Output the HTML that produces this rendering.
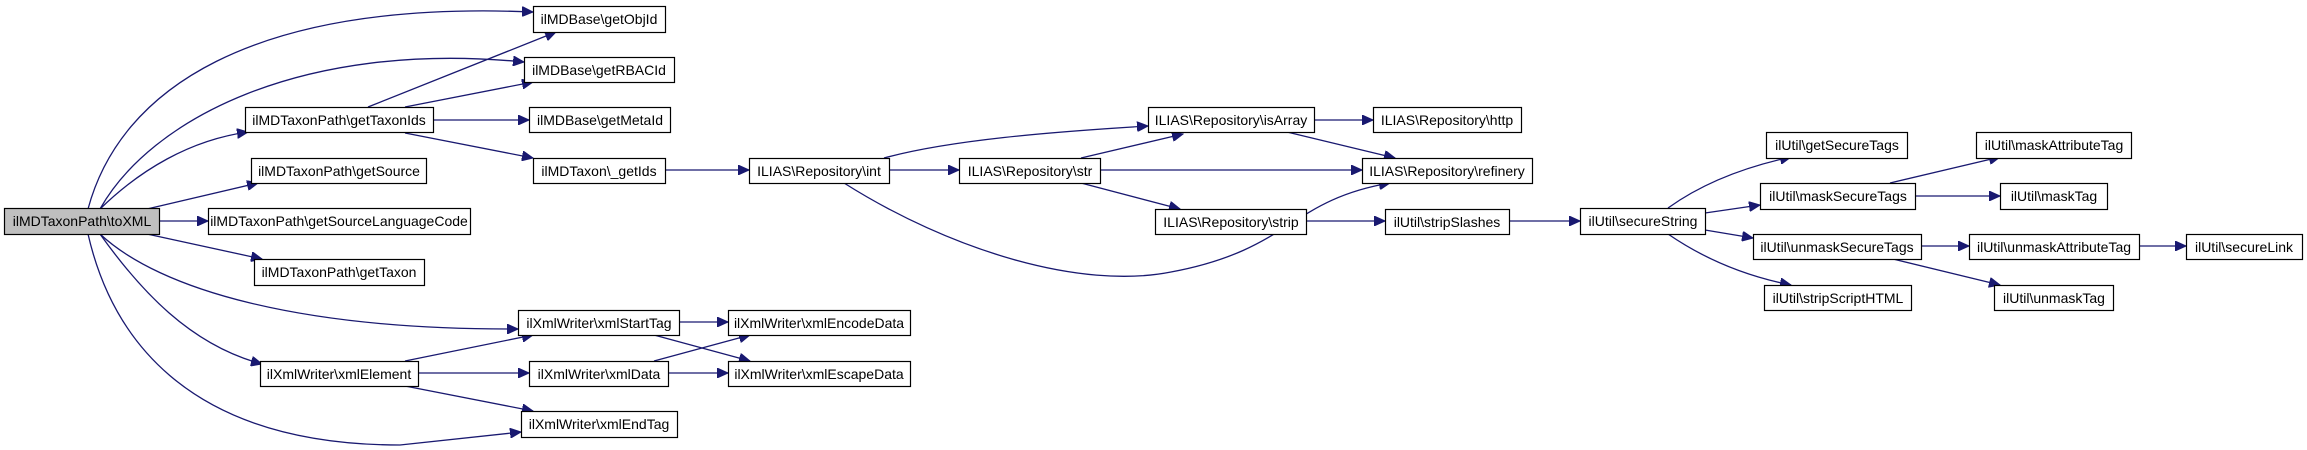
<!DOCTYPE html>
<html><head><meta charset="utf-8"><style>
html,body{margin:0;padding:0;background:#fff;}
svg{display:block;}
text{font-family:"Liberation Sans",sans-serif;font-size:14px;fill:#000;}
rect{fill:#fff;stroke:#000;stroke-width:1.2;}
path{fill:none;stroke:#191970;stroke-width:1.3;}
</style></head><body>
<svg width="2307" height="450" viewBox="0 0 2307 450" xmlns="http://www.w3.org/2000/svg">
<defs><marker id="a" markerUnits="userSpaceOnUse" markerWidth="12" markerHeight="10" refX="11" refY="5" orient="auto"><path d="M0,0 L11,5 L0,10 Z" style="fill:#191970;stroke:#191970;stroke-width:1"/></marker></defs>
<g marker-end="url(#a)">
<path d="M88,209 C120,90 250,0 533,12"/>
<path d="M100,209 C150,120 300,40 524,62"/>
<path d="M100,209 C140,170 190,140 248,132"/>
<path d="M147,209 L258,183"/>
<path d="M160,221 L208,221"/>
<path d="M147,234 L262,259"/>
<path d="M100,234 C160,290 300,330 518,329"/>
<path d="M100,234 C140,290 190,345 262,364"/>
<path d="M88,234 C110,330 180,445 400,445 L521,432"/>
<path d="M368,107 L556,32"/>
<path d="M405,107 L533,82"/>
<path d="M433,120 L529,120"/>
<path d="M405,133 L533,158"/>
<path d="M665,170 L749,170"/>
<path d="M884,158 C950,140 1050,132 1148,126"/>
<path d="M889,170 L959,170"/>
<path d="M844,183 C950,250 1080,290 1171,272 C1290,250 1290,200 1390,183"/>
<path d="M1081,158 L1183,134"/>
<path d="M1100,170 L1362,170"/>
<path d="M1081,183 L1180,209"/>
<path d="M1314,120 L1373,120"/>
<path d="M1287,132 L1395,158"/>
<path d="M1306,221 L1385,221"/>
<path d="M1509,221 L1580,221"/>
<path d="M1668,208 C1700,185 1740,168 1791,157"/>
<path d="M1705,213 L1760,205"/>
<path d="M1705,230 L1753,238"/>
<path d="M1668,234 C1700,256 1740,275 1791,285"/>
<path d="M1890,183 L2000,157"/>
<path d="M1915,196 L2000,196"/>
<path d="M1921,246 L1969,246"/>
<path d="M1893,259 L2000,285"/>
<path d="M2139,246 L2186,246"/>
<path d="M679,322 L728,322"/>
<path d="M654,335 L750,361"/>
<path d="M405,361 L533,335"/>
<path d="M418,373 L529,373"/>
<path d="M405,386 L533,411"/>
<path d="M654,361 L750,335"/>
<path d="M668,373 L728,373"/>
</g>
<g>
<rect x="4.5" y="208.5" width="155" height="26" style="fill:#bfbfbf"/><text x="82" y="226" text-anchor="middle">ilMDTaxonPath\toXML</text>
<rect x="533.5" y="6.5" width="132" height="26"/><text x="599" y="24" text-anchor="middle">ilMDBase\getObjId</text>
<rect x="524.5" y="57.5" width="150" height="25"/><text x="599" y="75" text-anchor="middle">ilMDBase\getRBACId</text>
<rect x="245.5" y="107.5" width="188" height="25"/><text x="339" y="125" text-anchor="middle">ilMDTaxonPath\getTaxonIds</text>
<rect x="529.5" y="107.5" width="141" height="25"/><text x="600" y="125" text-anchor="middle">ilMDBase\getMetaId</text>
<rect x="533.5" y="158.5" width="132" height="25"/><text x="599" y="176" text-anchor="middle">ilMDTaxon\_getIds</text>
<rect x="251.5" y="158.5" width="175" height="25"/><text x="339" y="176" text-anchor="middle">ilMDTaxonPath\getSource</text>
<rect x="208.5" y="208.5" width="262" height="26"/><text x="339" y="226" text-anchor="middle">ilMDTaxonPath\getSourceLanguageCode</text>
<rect x="254.5" y="259.5" width="170" height="26"/><text x="339" y="277" text-anchor="middle">ilMDTaxonPath\getTaxon</text>
<rect x="518.5" y="310.5" width="161" height="25"/><text x="599" y="328" text-anchor="middle">ilXmlWriter\xmlStartTag</text>
<rect x="260.5" y="361.5" width="158" height="25"/><text x="339" y="379" text-anchor="middle">ilXmlWriter\xmlElement</text>
<rect x="529.5" y="361.5" width="139" height="25"/><text x="599" y="379" text-anchor="middle">ilXmlWriter\xmlData</text>
<rect x="521.5" y="411.5" width="156" height="26"/><text x="599" y="429" text-anchor="middle">ilXmlWriter\xmlEndTag</text>
<rect x="728.5" y="310.5" width="182" height="25"/><text x="819" y="328" text-anchor="middle">ilXmlWriter\xmlEncodeData</text>
<rect x="728.5" y="361.5" width="182" height="25"/><text x="819" y="379" text-anchor="middle">ilXmlWriter\xmlEscapeData</text>
<rect x="749.5" y="158.5" width="140" height="25"/><text x="819" y="176" text-anchor="middle">ILIAS\Repository\int</text>
<rect x="959.5" y="158.5" width="141" height="25"/><text x="1030" y="176" text-anchor="middle">ILIAS\Repository\str</text>
<rect x="1148.5" y="107.5" width="166" height="25"/><text x="1231" y="125" text-anchor="middle">ILIAS\Repository\isArray</text>
<rect x="1373.5" y="107.5" width="148" height="25"/><text x="1447" y="125" text-anchor="middle">ILIAS\Repository\http</text>
<rect x="1362.5" y="158.5" width="170" height="25"/><text x="1447" y="176" text-anchor="middle">ILIAS\Repository\refinery</text>
<rect x="1155.5" y="209.5" width="151" height="25"/><text x="1231" y="227" text-anchor="middle">ILIAS\Repository\strip</text>
<rect x="1385.5" y="209.5" width="124" height="25"/><text x="1447" y="227" text-anchor="middle">ilUtil\stripSlashes</text>
<rect x="1580.5" y="208.5" width="125" height="26"/><text x="1643" y="226" text-anchor="middle">ilUtil\secureString</text>
<rect x="1766.5" y="132.5" width="141" height="26"/><text x="1837" y="150" text-anchor="middle">ilUtil\getSecureTags</text>
<rect x="1760.5" y="183.5" width="155" height="26"/><text x="1838" y="201" text-anchor="middle">ilUtil\maskSecureTags</text>
<rect x="1753.5" y="234.5" width="168" height="25"/><text x="1837" y="252" text-anchor="middle">ilUtil\unmaskSecureTags</text>
<rect x="1764.5" y="285.5" width="147" height="25"/><text x="1838" y="303" text-anchor="middle">ilUtil\stripScriptHTML</text>
<rect x="1976.5" y="132.5" width="155" height="26"/><text x="2054" y="150" text-anchor="middle">ilUtil\maskAttributeTag</text>
<rect x="2000.5" y="183.5" width="107" height="26"/><text x="2054" y="201" text-anchor="middle">ilUtil\maskTag</text>
<rect x="1969.5" y="234.5" width="170" height="25"/><text x="2054" y="252" text-anchor="middle">ilUtil\unmaskAttributeTag</text>
<rect x="1994.5" y="285.5" width="119" height="25"/><text x="2054" y="303" text-anchor="middle">ilUtil\unmaskTag</text>
<rect x="2186.5" y="234.5" width="116" height="25"/><text x="2244" y="252" text-anchor="middle">ilUtil\secureLink</text>
</g>
</svg>
</body></html>
